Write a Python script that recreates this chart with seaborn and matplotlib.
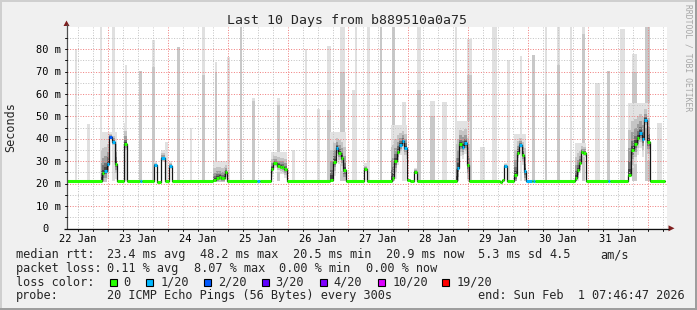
import matplotlib
matplotlib.use("Agg")
import matplotlib.pyplot as plt
from matplotlib.patches import Rectangle, Polygon
import pandas as pd
import seaborn as sns

sns.set_theme(style="white")
plt.rcParams['font.family'] = ['DejaVu Sans Mono', 'DejaVu Sans']

# ------------------------------------------------------------------ data
# time in hours after 22 Jan 00:00 ; latency in ms
T_START, T_END = 7.78, 247.78
day_labels = ["22 Jan", "23 Jan", "24 Jan", "25 Jan", "26 Jan",
              "27 Jan", "28 Jan", "29 Jan", "30 Jan", "31 Jan"]
day_label_h = [12, 36, 60, 84, 108, 132, 156, 180, 204, 228]
y_ticks = [0, 10, 20, 30, 40, 50, 60, 70, 80]
y_tick_labels = ["0", "10 m", "20 m", "30 m", "40 m", "50 m", "60 m", "70 m", "80 m"]

# median rtt as a step series (start hour, ms, loss bucket)
med_t = [7.78, 21.66, 22.70, 23.58, 24.70, 25.58, 26.98, 27.66, 30.70, 31.66,
         37.10, 37.78, 42.70, 43.66, 45.38, 46.98, 48.58, 49.78, 66.30, 67.38,
         68.46, 69.50, 70.58, 70.98, 71.78, 83.66, 84.98, 89.38, 90.30, 91.66,
         92.98, 93.90, 94.70, 95.66, 112.98, 114.18, 115.26, 116.30, 117.38, 118.30,
         119.38, 126.70, 127.66, 137.66, 138.70, 139.66, 140.70, 141.66, 142.70, 143.66,
         144.98, 146.70, 147.66, 163.66, 164.70, 165.66, 166.70, 167.66, 168.70, 180.98,
         181.90, 182.70, 183.66, 186.70, 187.66, 188.70, 189.66, 190.70, 191.38, 193.66,
         194.18, 195.10, 210.98, 211.78, 212.58, 213.38, 214.30, 215.38, 224.06, 224.98,
         232.30, 233.26, 234.70, 235.66, 236.58, 237.66, 238.70, 239.66, 240.98]
med_ms = [21.0, 24.5, 25.8, 28.9, 41.0, 38.7, 28.9, 21.0, 37.7, 21.0,
          21.0, 21.0, 28.3, 20.8, 31.3, 21.0, 27.7, 21.0, 21.5, 22.6,
          23.0, 22.4, 22.6, 25.3, 21.0, 21.0, 21.0, 26.5, 29.3, 28.0,
          27.6, 27.4, 26.3, 21.0, 21.8, 29.8, 36.0, 33.5, 31.5, 26.0,
          21.0, 26.5, 21.0, 22.5, 30.0, 34.2, 37.2, 39.0, 36.0, 21.5,
          21.0, 25.3, 21.0, 27.1, 37.5, 36.5, 38.0, 28.3, 21.0, 20.6,
          21.4, 28.0, 21.0, 23.8, 33.8, 37.2, 32.8, 25.6, 21.0, 21.0,
          21.0, 21.0, 22.4, 26.0, 29.0, 34.2, 33.8, 21.0, 21.0, 21.0,
          23.8, 35.0, 37.7, 40.5, 42.7, 39.8, 48.4, 38.7, 21.0]
med_loss = [0, 0, 1, 1, 2, 1, 0, 0, 0, 0,
            1, 0, 1, 0, 1, 0, 1, 0, 0, 0,
            0, 0, 0, 0, 0, 1, 0, 0, 0, 0,
            0, 0, 0, 0, 0, 0, 1, 0, 0, 0,
            0, 0, 0, 0, 0, 0, 1, 1, 1, 0,
            0, 0, 0, 1, 0, 1, 1, 0, 0, 0,
            0, 1, 0, 0, 0, 1, 0, 1, 1, 0,
            1, 0, 0, 0, 0, 0, 0, 0, 1, 0,
            0, 0, 0, 0, 1, 1, 1, 0, 0]
med_end = 246.98

# outlier pings (light smoke spikes): start, end, max ms, denser part ms
spike_t0 = [10.98, 15.78, 20.98, 25.66, 30.98, 36.70, 41.66, 46.98, 51.66, 56.98,
            61.66, 66.98, 71.66, 76.98, 81.90, 91.66, 97.66, 102.98, 107.66, 111.66,
            116.98, 121.90, 122.98, 127.78, 132.98, 137.78, 141.78, 147.78, 152.98, 157.78,
            162.98, 167.78, 172.98, 177.78, 183.66, 188.98, 193.78, 198.98, 203.78, 208.98,
            213.78, 218.98, 223.78, 228.98, 233.78, 238.98, 243.78]
spike_t1 = [11.78, 16.98, 21.78, 26.98, 31.78, 37.78, 42.98, 48.18, 52.98, 57.78,
            62.98, 67.78, 72.98, 77.78, 82.98, 92.98, 98.98, 103.78, 108.98, 113.26,
            118.98, 123.26, 123.78, 128.98, 133.90, 138.98, 143.38, 149.38, 154.98, 159.78,
            163.78, 169.78, 174.98, 179.78, 184.98, 189.78, 194.98, 199.78, 204.98, 209.78,
            214.98, 220.98, 224.98, 230.98, 235.78, 240.98, 245.78]
spike_top = [80, 46.6, 90, 90, 73, 70.5, 84, 38.7, 81, 45,
             90, 74.5, 76.7, 90, 58.4, 58.4, 35, 80, 53.3, 81.6,
             90, 61.8, 90, 90, 90, 90, 56.6, 90, 57, 56.5,
             90, 84.5, 36.5, 90, 75, 77, 77.5, 90, 90, 90,
             90, 65, 70.4, 89, 78, 90, 47]
spike_inner = [0, 0, 0, 0, 0, 70.5, 72, 0, 81, 0,
               68.5, 70, 0, 90, 57, 55, 0, 0, 0, 53,
               70, 0, 0, 0, 90, 90, 0, 62, 50, 0,
               0, 68.5, 0, 0, 0, 0, 77.5, 60, 73, 0,
               87, 0, 70.4, 0, 70, 90, 0]

# dense smoke around the daily peaks: start, end, low ms, high ms
smoke_t0 = [21.38, 30.58, 42.58, 45.38, 48.58, 66.18, 89.38, 112.98, 126.58, 137.38,
            146.58, 163.38, 182.58, 186.58, 210.98, 232.18]
smoke_t1 = [27.78, 31.78, 43.78, 46.98, 49.78, 71.78, 95.78, 119.38, 127.78, 143.78,
            147.78, 168.98, 183.78, 191.38, 215.38, 240.98]
smoke_lo = [20.8, 21, 21, 21, 21, 20.8, 20.8, 21, 21, 21, 21, 21, 21, 21, 21, 27]
smoke_hi = [43, 47, 30, 35, 30, 30, 34, 43, 29, 46, 27, 48, 29, 42, 38, 56]

loss_labels = ["0", "1/20", "2/20", "3/20", "4/20", "10/20", "19/20"]
loss_colors = ['#26ff00', '#00b8ff', '#0059ff', '#5e00ff', '#7e00ff', '#dd00ff', '#ff0000']

# ------------------------------------------------------------------ layout
W, H = 697, 310
X0, X1 = 67, 667
Y0, YT = 228.3, 26.9
YMAX = 90

fig = plt.figure(figsize=(W / 100, H / 100), dpi=100)
fig.patch.set_facecolor('#f0f0f0')
ax = fig.add_axes([X0 / W, (H - Y0) / H, (X1 - X0) / W, (Y0 - YT) / H])
ax.set_xlim(T_START, T_END)
ax.set_ylim(0, YMAX)
ax.set_facecolor('white')
for s in ax.spines.values():
    s.set_visible(False)
ax.set_xticks([])
ax.set_yticks([])

# spikes
base = 21.0
ax.bar(spike_t0, [t - base for t in spike_top], width=[b - a for a, b in zip(spike_t0, spike_t1)],
       bottom=base, align='edge', color='#e0e0e0', lw=0, zorder=1)
inn = [(a, b, v) for a, b, v in zip(spike_t0, spike_t1, spike_inner) if v > 0]
ax.bar([i[0] for i in inn], [i[2] - base for i in inn], width=[i[1] - i[0] for i in inn],
       bottom=base, align='edge', color='#c8c8c8', lw=0, zorder=1)

# dense smoke (graded, skewed upwards)
edges = med_t + [med_end]
smoke_cols = ['#e2e2e2', '#c4c4c4', '#9c9c9c', '#727272', '#464646']
smoke_fr = [1.0, 0.62, 0.38, 0.2, 0.09]
for w0, w1, lo, hi in zip(smoke_t0, smoke_t1, smoke_lo, smoke_hi):
    for i in range(len(med_t)):
        a, b = max(edges[i], w0), min(edges[i + 1], w1)
        if b <= a:
            continue
        m = med_ms[i]
        for f, c in zip(smoke_fr, smoke_cols):
            top = m + f * (hi - m)
            bot = max(lo, m - 0.5 * f * (hi - m)) if m > lo else m
            ax.bar(a, top - bot, width=b - a, bottom=bot, align='edge', color=c, lw=0, zorder=2)

# grid (dotted)
minor_c, major_c = '#c4c4c4', '#f08080'
dots = (0, (1, 1.6))
for v in range(5, YMAX, 5):
    ax.axhline(v, color=major_c if v % 10 == 0 else minor_c, lw=0.72, ls=dots, zorder=3)
for h in range(12, 248, 6):
    ax.axvline(h, color=major_c if h % 24 == 0 else minor_c, lw=0.72, ls=dots, zorder=3)

# median line (black connector) and loss-coloured median
df_med = pd.DataFrame({'t': med_t + [med_end], 'ms': med_ms + [med_ms[-1]]})
sns.lineplot(data=df_med, x='t', y='ms', ax=ax, drawstyle='steps-post', color='#161616',
             lw=0.9, estimator=None, sort=False, legend=False, zorder=4)
ax.hlines(med_ms, med_t, edges[1:], colors=[loss_colors[k] for k in med_loss],
          lw=2.2, zorder=5, capstyle='butt')
ax.set_xlabel('')
ax.set_ylabel('')

# ------------------------------------------------------------------ overlay (frame, axes, text)
ov = fig.add_axes([0, 0, 1, 1])
ov.set_xlim(0, W)
ov.set_ylim(H, 0)
ov.axis('off')
ov.patch.set_alpha(0)


def px_x(t):
    return X0 + (t - T_START) / (T_END - T_START) * (X1 - X0)


def px_y(v):
    return Y0 - v / YMAX * (Y0 - YT)


# 3d frame
ov.add_patch(Rectangle((0, 0), W, 2, color='#cfcfcf', lw=0))
ov.add_patch(Rectangle((0, 0), 2, H, color='#cfcfcf', lw=0))
ov.add_patch(Rectangle((0, H - 2.5), W, 2.5, color='#9e9e9e', lw=0))
ov.add_patch(Rectangle((W - 2, 0), 2, H, color='#9e9e9e', lw=0))

# axes lines + arrows
ov.plot([66.5, 66.5], [Y0 + 0.5, 24], color='#505050', lw=0.9, solid_capstyle='butt')
ov.plot([64, 669], [Y0 + 0.3, Y0 + 0.3], color='#101010', lw=0.9, solid_capstyle='butt')
ov.add_patch(Polygon([(63.5, 26), (69.5, 26), (66.5, 20.5)], closed=True, color='#7f1f1f', lw=0))
ov.add_patch(Polygon([(668.5, 225.3), (668.5, 231.3), (674.5, 228.3)], closed=True,
                     color='#7f1f1f', lw=0))
for h in range(12, 248, 6):
    ov.plot([px_x(h), px_x(h)], [Y0 + 0.5, Y0 + 2.5], color='#101010', lw=0.7)
for v in range(5, YMAX, 5):
    ov.plot([64.5, 66.5], [px_y(v), px_y(v)], color='#101010', lw=0.7)

# tick labels
for lab, h in zip(day_labels, day_label_h):
    ov.text(px_x(h), 241.5, lab, ha='center', va='baseline', fontsize=7.5, color='black')
for lab, v in zip(y_tick_labels, y_ticks):
    xx = 36 if len(lab) > 1 else 42.3
    ov.text(xx, px_y(v) + 3.6, lab, ha='left', va='baseline', fontsize=7.5, color='black')

# title and axis label
ov.text(347, 23.8, "Last 10 Days from b889510a0a75", ha='center', va='baseline', fontsize=9.55)
ov.text(10.8, 127.5, "Seconds", rotation=90, ha='center', va='center', fontsize=8.5)
ov.text(688, 4.5, "RRDTOOL / TOBI OETIKER", rotation=-90, ha='center', va='top',
        fontsize=5.8, color='#a6a6a6')

# legend block
FS = 8.55
rows = [
    (258.3, [(16, "median rtt:"), (107.3, "23.4 ms avg"), (200, "48.2 ms max"),
             (293.3, "20.5 ms min"), (386, "20.9 ms now"), (478.3, "5.3 ms sd"),
             (549.3, "4.5"), (600.7, "am/s")]),
    (272.0, [(16, "packet loss:"), (107.3, "0.11 % avg"), (194, "8.07 % max"),
             (279.3, "0.00 % min"), (366, "0.00 % now")]),
    (299.4, [(16, "probe:"), (107.3, "20 ICMP Echo Pings (56 Bytes) every 300s"),
             (478.3, "end: Sun Feb  1 07:46:47 2026")]),
]
for yb, items in rows:
    for xx, s in items:
        ov.text(xx, yb, s, ha='left', va='baseline', fontsize=FS)

ov.text(16, 285.7, "loss color:", ha='left', va='baseline', fontsize=FS)
sq_x = [109, 145.7, 203.3, 261, 319, 377.7, 441.7]
for xs, lab, col in zip(sq_x, loss_labels, loss_colors):
    ov.add_patch(Rectangle((xs + 0.5, 278.8), 7, 7, facecolor=col, edgecolor='black', lw=0.8))
    ov.text(xs + 14.5, 285.7, lab, ha='left', va='baseline', fontsize=FS)

fig.savefig('out.png', dpi=100, facecolor=fig.get_facecolor())
